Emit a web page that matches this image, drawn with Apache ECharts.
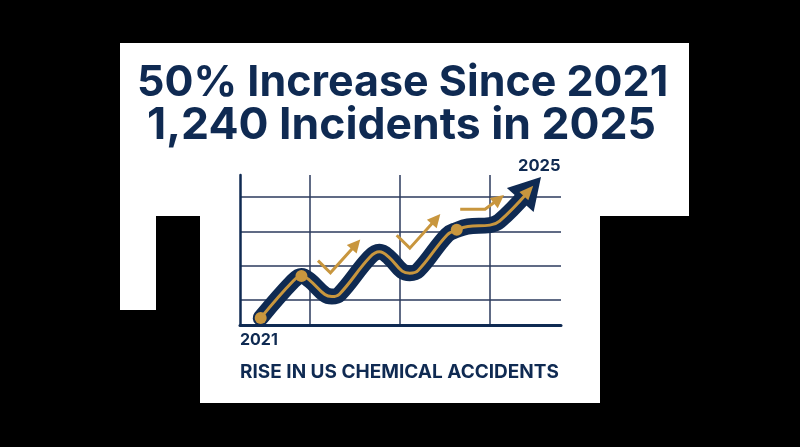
<!DOCTYPE html>
<html>
<head>
    <meta charset="UTF-8">
    <title>Rise in US chemical accidents</title>
    <style>
        html, body { margin: 0; padding: 0; background: #000; }
        #chart { width: 800px; height: 447px; }
    </style>
</head>
<body>
<div id="chart"></div>
<script src="https://cdn.jsdelivr.net/npm/echarts@6/dist/echarts.min.js"></script>
<script type="text/javascript">
    // values: [year, incidents]
    const trendYears = [2021, 2021.47, 2021.59, 2021.71, 2021.93, 2022.03, 2022.14, 2022.58, 2022.72, 2022.86, 2023.05, 2023.16, 2023.28, 2023.70, 2023.84, 2024.00, 2024.32, 2024.46, 2024.86];
    const trendValues = [827, 936, 951, 938, 896, 890, 897, 1006, 1022, 1006, 965, 959, 967, 1072, 1087, 1097, 1101, 1113, 1196];
    const dotYears = [2021, 2021.59, 2023.84];
    const dotValues = [827, 951, 1087];

    const arrowOneYears = [2021.83, 2022.01, 2022.38];
    const arrowOneValues = [996, 960, 1044];
    const arrowTwoYears = [2022.97, 2023.16, 2023.54];
    const arrowTwoValues = [1071, 1033, 1119];
    const arrowThreeYears = [2023.89, 2024.25, 2024.45];
    const arrowThreeValues = [1148, 1148, 1178];

    const xGridYears = [2021.71, 2023.02, 2024.32];
    const yGridValues = [880, 981, 1081, 1184];

    const headline = ['50% Increase Since 2021', '1,240 Incidents in 2025'];
    const caption = 'RISE IN US CHEMICAL ACCIDENTS';
    const startLabel = '2021';
    const endLabel = '2025';

    const navy = '#0f2a52';
    const gold = '#c8963e';
    const gridColor = '#2b3a5c';
    const font = 'Inter, "Noto Sans", sans-serif';

    function zip(xs, ys) {
        return xs.map(function (x, i) { return [x, ys[i]]; });
    }

    // small gold arrow, the head sits on its last point
    function goldArrow(xs, ys, rotate) {
        return {
            type: 'line',
            data: zip(xs, ys),
            z: 4,
            silent: true,
            showSymbol: true,
            symbol: function (v, p) { return p.dataIndex === xs.length - 1 ? 'triangle' : 'none'; },
            symbolSize: [13, 13],
            symbolRotate: rotate,
            lineStyle: { color: gold, width: 3, cap: 'butt', join: 'miter' },
            itemStyle: { color: gold }
        };
    }

    let chart = echarts.init(document.getElementById('chart'), null, { renderer: 'canvas' });

    let option = {
        animation: false,
        backgroundColor: '#000',
        grid: { left: 240, top: 175, width: 321, height: 150 },
        xAxis: {
            type: 'value',
            min: 2020.7,
            max: 2025.35,
            axisLine: { onZero: false, lineStyle: { color: navy, width: 3 } },
            axisTick: { show: false, customValues: xGridYears },
            axisLabel: { show: false },
            splitLine: { show: true, lineStyle: { color: gridColor, width: 1.5 } }
        },
        yAxis: {
            type: 'value',
            min: 806,
            max: 1249,
            axisLine: { show: true, onZero: false, lineStyle: { color: navy, width: 2.5 } },
            axisTick: { show: false, customValues: yGridValues },
            axisLabel: { show: false },
            splitLine: { show: true, lineStyle: { color: gridColor, width: 1.5 } }
        },
        graphic: [
            {
                type: 'polygon',
                z: -10,
                silent: true,
                shape: {
                    points: [[120, 43], [689, 43], [689, 216], [600, 216], [600, 403],
                        [200, 403], [200, 216], [156, 216], [156, 310], [120, 310]]
                },
                style: { fill: '#fff' }
            },
            {
                type: 'text', left: 137, top: 62, z: 10,
                style: { text: headline[0], fill: navy, font: '700 43px ' + font }
            },
            {
                type: 'text', left: 147, top: 103, z: 10,
                style: { text: headline[1], fill: navy, font: '700 44.5px ' + font }
            },
            {
                type: 'text', left: 240, top: 332, z: 10,
                style: { text: startLabel, fill: navy, font: '700 16px ' + font }
            },
            {
                type: 'text', left: 518, top: 158, z: 10,
                style: { text: endLabel, fill: navy, font: '700 16.5px ' + font }
            },
            {
                type: 'text', left: 240, top: 363, z: 10,
                style: { text: caption, fill: navy, font: '700 19px ' + font }
            }
        ],
        series: [
            {
                type: 'line',
                data: zip(trendYears, trendValues),
                smooth: 0.4,
                showSymbol: false,
                z: 2,
                silent: true,
                lineStyle: { color: navy, width: 16, cap: 'round', join: 'round' }
            },
            {
                type: 'scatter',
                data: [[2024.91, 1209]],
                symbol: 'triangle',
                symbolSize: [36, 31],
                symbolRotate: -42,
                z: 2,
                silent: true,
                itemStyle: { color: navy, opacity: 1 }
            },
            {
                type: 'line',
                data: zip(trendYears, trendValues),
                smooth: 0.4,
                showSymbol: false,
                z: 3,
                silent: true,
                lineStyle: { color: gold, width: 3, cap: 'round', join: 'round' }
            },
            {
                type: 'scatter',
                data: [[2024.88, 1202]],
                symbol: 'triangle',
                symbolSize: [12, 14],
                symbolRotate: -42,
                z: 3,
                silent: true,
                itemStyle: { color: gold, opacity: 1 }
            },
            {
                type: 'scatter',
                data: zip(dotYears, dotValues),
                symbolSize: 12,
                z: 4,
                silent: true,
                itemStyle: { color: gold, opacity: 1 }
            },
            goldArrow(arrowOneYears, arrowOneValues, -41),
            goldArrow(arrowTwoYears, arrowTwoValues, -41),
            goldArrow(arrowThreeYears, arrowThreeValues, -52)
        ]
    };

    chart.setOption(option);
</script>
</body>
</html>
